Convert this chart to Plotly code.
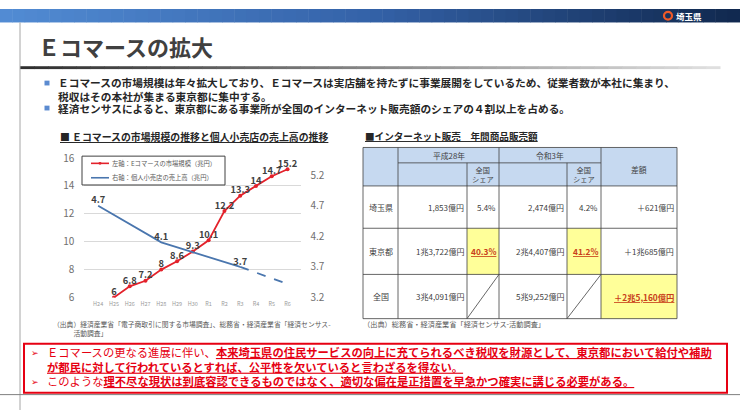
import plotly.graph_objects as go

W, H = 740, 417
FONT = "Noto Sans CJK JP"

# ---------------- data ----------------
years = ["H24", "H25", "H26", "H27", "H28", "H29", "H30", "R1", "R2", "R3", "R4", "R5", "R6"]
ec_market = [None, 6, 6.8, 7.2, 8, 8.6, 9.3, 10.1, 12.2, 13.3, 14, 14.7, 15.2]
retail_sales = [4.7, None, None, None, 4.1, None, None, None, None, 3.7, None, None, None]
retail_projection = [None, None, None, None, None, None, None, None, None, 3.7, None, None, 3.42]
left_ticks = [6, 8, 10, 12, 14, 16]
right_ticks = [3.2, 3.7, 4.2, 4.7, 5.2]
ec_name = "左軸：Eコマースの市場規模（兆円）"
retail_name = "右軸：個人小売店の売上高（兆円）"

table_regions = ["埼玉県", "東京都", "全国"]
sales_h28 = ["1,853億円", "1兆3,722億円", "3兆4,091億円"]
share_h28 = ["5.4%", "40.3%", None]
sales_r3 = ["2,474億円", "2兆4,407億円", "5兆9,252億円"]
share_r3 = ["4.2%", "41.2%", None]
difference = ["＋621億円", "＋1兆685億円", "＋2兆5,160億円"]
period_headers = ["平成28年", "令和3年"]
share_header = "全国<br>シェア"
diff_header = "差額"

page_title = "Ｅコマースの拡大"
bullets = [
    "Ｅコマースの市場規模は年々拡大しており、Ｅコマースは実店舗を持たずに事業展開をしているため、従業者数が本社に集まり、<br>税収はその本社が集まる東京都に集中する。",
    "経済センサスによると、東京都にある事業所が全国のインターネット販売額のシェアの４割以上を占める。",
]
chart_title = "■ Ｅコマースの市場規模の推移と個人小売店の売上高の推移"
table_title = "■インターネット販売　年間商品販売額"
chart_source = "（出典）経済産業省「電子商取引に関する市場調査」、総務省・経済産業省「経済センサス-<br>　　　活動調査」"
table_source = "（出典）総務省・経済産業省「経済センサス-活動調査」"
conclusion_1 = ("Ｅコマースの更なる進展に伴い、",
                "本来埼玉県の住民サービスの向上に充てられるべき税収を財源として、東京都において給付や補助",
                "が都民に対して行われているとすれば、公平性を欠いていると言わざるを得ない。")
conclusion_2 = ("このような",
                "理不尽な現状は到底容認できるものではなく、適切な偏在是正措置を早急かつ確実に講じる必要がある。")

# ---------------- helpers ----------------
def px(x):
    return x / W

def py(y):
    return 1 - y / H

shapes = []
annotations = []

def rect(x0, y0, x1, y1, fill=None, line=None, lw=0, layer="below"):
    shapes.append(dict(type="rect", xref="paper", yref="paper",
                       x0=px(x0), x1=px(x1), y0=py(y1), y1=py(y0),
                       fillcolor=fill if fill else "rgba(0,0,0,0)",
                       line=dict(color=line if line else "rgba(0,0,0,0)", width=lw),
                       layer=layer))

def seg(x0, y0, x1, y1, color, lw=1, layer="above", dash="solid"):
    shapes.append(dict(type="line", xref="paper", yref="paper",
                       x0=px(x0), x1=px(x1), y0=py(y0), y1=py(y1),
                       line=dict(color=color, width=lw, dash=dash), layer=layer))

def text(x, y, s, size, color="#404040", xanchor="left", yanchor="middle", bold=False, align="left"):
    annotations.append(dict(x=px(x), y=py(y), xref="paper", yref="paper", text=s,
                            showarrow=False, xanchor=xanchor, yanchor=yanchor, align=align,
                            borderpad=0,
                            font=dict(family=FONT, size=size, color=color,
                                      weight="bold" if bold else "normal")))

def lerp(c0, c1, t):
    return "rgb(%d,%d,%d)" % tuple(round(a + (b - a) * t) for a, b in zip(c0, c1))

# ---------------- page decoration ----------------
N = 60
stops = [(0.0, (82, 140, 212)), (0.5, (52, 98, 168)), (1.0, (16, 40, 78))]
for i in range(N):
    t = (i + 0.5) / N
    for (t0, c0), (t1, c1) in zip(stops[:-1], stops[1:]):
        if t0 <= t <= t1:
            col = lerp(c0, c1, (t - t0) / (t1 - t0))
    rect(i * W / N, 0, (i + 1) * W / N + 0.5, 14, fill=col)

# logo
shapes.append(dict(type="circle", xref="paper", yref="paper",
                   x0=px(664), x1=px(672), y0=py(11), y1=py(3),
                   fillcolor="rgba(0,0,0,0)", line=dict(color="#f05a28", width=2.2)))
text(675, 7.5, "埼玉県", 8.5, color="white", bold=True)

# page left line and bottom line
seg(20, 14, 20, 417, "#a6a6a6", 1)
seg(0, 401, 740, 401, "#7f7f7f", 1)

# title and gradient underline
text(37, 38.5, page_title, 22, color="#404040", bold=True)
M = 50
for i in range(M):
    t = (i + 0.5) / M
    rect(20 + i * 700 / M, 59.5, 20 + (i + 1) * 700 / M + 0.5, 62.5,
         fill=lerp((45, 45, 45), (225, 225, 225), t))

# bullets
for yb in (77, 103):
    rect(44.5, yb - 2.5, 49.5, yb + 2.5, fill="#5b8bd0")
text(57, 83.5, bullets[0], 10.7, color="#262626", bold=True)
text(57, 103.5, bullets[1], 10.7, color="#262626", bold=True)

# section titles
text(59, 133, "<u>" + chart_title + "</u>", 9.9, color="#262626", bold=True)
text(364, 132, "<u>" + table_title + "</u>", 9.6, color="#262626", bold=True)

# sources
text(52, 332, chart_source, 6.8, color="#595959")
text(362, 328, table_source, 7.2, color="#595959")

# ---------------- chart legend (drawn box) ----------------
rect(82, 153, 225, 183, fill="white", line="#404040", lw=1, layer="above")
seg(91, 160.5, 109, 160.5, "#e3222b", 1.6)
shapes.append(dict(type="circle", xref="paper", yref="paper",
                   x0=px(98.5), x1=px(101.5), y0=py(162), y1=py(159),
                   fillcolor="#e3222b", line=dict(color="#e3222b", width=0)))
seg(91, 175.5, 109, 175.5, "#4a76ae", 1.6)
text(111, 160.5, ec_name, 6.3, color="#595959")
text(111, 175.5, retail_name, 6.3, color="#595959")

# ---------------- table ----------------
cx = [363, 398, 467, 499, 567, 601, 677]
ry = [144, 184, 228, 276, 322]
sub_y = 160
border = "#404040"
rect(cx[0], ry[0], cx[-1], ry[1], fill="#c6d9f0")
hl_share_row = 1
hl_diff_row = 2
yellow = "#ffff99"
for c in (2, 4):
    rect(cx[c], ry[hl_share_row + 1], cx[c + 1], ry[hl_share_row + 2], fill=yellow)
rect(cx[5], ry[hl_diff_row + 1], cx[6], ry[hl_diff_row + 2], fill=yellow)

for y in ry:
    seg(cx[0], y, cx[-1], y, border, 0.8)
seg(cx[1], sub_y, cx[5], sub_y, border, 0.8)
for i, x in enumerate(cx):
    y0 = sub_y if i in (2, 4) else ry[0]
    seg(x, y0, x, ry[-1], border, 0.8)
for c in (2, 4):
    seg(cx[c], ry[4], cx[c + 1], ry[3], border, 0.8)

hdr = "#404040"
text((cx[1] + cx[3]) / 2, 152, period_headers[0], 7.8, color=hdr, xanchor="center")
text((cx[3] + cx[5]) / 2, 152, period_headers[1], 7.8, color=hdr, xanchor="center")
text((cx[5] + cx[6]) / 2, 167, diff_header, 7.8, color=hdr, xanchor="center")
for c in (2, 4):
    text((cx[c] + cx[c + 1]) / 2, 172, share_header, 7.2, color=hdr, xanchor="center", align="center")

hl_color = "#c8401a"
for r in range(3):
    yc = (ry[r + 1] + ry[r + 2]) / 2
    text((cx[0] + cx[1]) / 2, yc, table_regions[r], 8, color=hdr, xanchor="center")
    text(cx[2] - 2, yc, sales_h28[r], 8, color=hdr, xanchor="right")
    text(cx[4] - 2, yc, sales_r3[r], 8, color=hdr, xanchor="right")
    for c, vals in ((3, share_h28), (5, share_r3)):
        v = vals[r]
        if v is None:
            continue
        if r == hl_share_row:
            text(cx[c] - 2, yc, "<u>" + v + "</u>", 8.3, color=hl_color, xanchor="right", bold=True)
        else:
            text(cx[c] - 2, yc, v, 8, color=hdr, xanchor="right")
    if r == hl_diff_row:
        text(cx[6] - 2, yc, "<u>" + difference[r] + "</u>", 8.3, color=hl_color, xanchor="right", bold=True)
    else:
        text(cx[6] - 2, yc, difference[r], 8, color=hdr, xanchor="right")

# ---------------- conclusion box ----------------
red = "#e60012"
shapes.append(dict(type="rect", xref="paper", yref="paper",
                   x0=px(24), x1=px(727), y0=py(399), y1=py(348),
                   fillcolor="white", line=dict(color=red, width=2), layer="below"))
text(30, 357, "➢", 9, color=red)
text(30, 387, "➢", 9, color=red)
text(46, 364.3, conclusion_1[0] + "<b><u>" + conclusion_1[1] + "</u></b><br><b><u>" + conclusion_1[2] + "</u></b>",
     11.3, color=red)
text(46, 387, conclusion_2[0] + "<b><u>" + conclusion_2[1] + "</u></b>", 11.3, color=red)

# ---------------- chart ----------------
fig = go.Figure()
fig.add_trace(go.Scatter(x=years, y=ec_market, name=ec_name, mode="lines+markers",
                         line=dict(color="#e3222b", width=1.8),
                         marker=dict(size=4, color="#e3222b"), yaxis="y"))
fig.add_trace(go.Scatter(x=years, y=retail_sales, name=retail_name, mode="lines",
                         connectgaps=True, line=dict(color="#4a76ae", width=1.8), yaxis="y2"))
fig.add_trace(go.Scatter(x=years, y=retail_projection, mode="lines", connectgaps=True,
                         showlegend=False, line=dict(color="#4a76ae", width=1.8, dash="dash"),
                         yaxis="y2"))
fig.add_trace(go.Scatter(x=years, y=ec_market, mode="text", texttemplate="<b>%{y}</b>",
                         textposition="top center", showlegend=False, hoverinfo="skip",
                         textfont=dict(family=FONT, size=9.3, color="#404040"), yaxis="y"))
fig.add_trace(go.Scatter(x=years, y=retail_sales, mode="text", texttemplate="<b>%{y}</b>",
                         textposition="top center", showlegend=False, hoverinfo="skip",
                         textfont=dict(family=FONT, size=9.3, color="#404040"), yaxis="y2"))

fig.update_layout(
    width=W, height=H,
    margin=dict(l=0, r=0, t=0, b=0),
    paper_bgcolor="white", plot_bgcolor="rgba(0,0,0,0)",
    font=dict(family=FONT, color="#404040"),
    shapes=shapes, annotations=annotations,
    xaxis=dict(domain=[px(84.3), px(301.4)], type="category", categoryorder="array",
               categoryarray=years, showgrid=False, zeroline=False, showline=False,
               ticks="", tickfont=dict(family=FONT, size=5.5, color="#9a9a9a"),
               ticklabelstandoff=2, fixedrange=True),
    yaxis=dict(domain=[py(300), py(155)], range=[6, 16], tickvals=left_ticks,
               showgrid=True, gridcolor="#d9d9d9", gridwidth=1, zeroline=False,
               showline=False, ticks="", ticklabelstandoff=9,
               tickfont=dict(family=FONT, size=10, color="#6f6f6f")),
    yaxis2=dict(overlaying="y", side="right", range=[3.2, 5.478], tickvals=right_ticks,
                tickformat=".1f", showgrid=False, zeroline=False, showline=False, ticks="",
                ticklabelstandoff=8, tickfont=dict(family=FONT, size=10, color="#6f6f6f")),
    showlegend=False,
    hovermode=False,
)

post = ("var d=document.getElementById('{plot_id}');"
        "d.style.position='fixed';d.style.top='0px';d.style.left='0px';"
        "document.documentElement.style.margin='0px';document.body.style.margin='0px';"
        "document.documentElement.style.overflow='hidden';document.body.style.overflow='hidden';")
fig.write_html("out.html", config={"displayModeBar": False}, post_script=post)
